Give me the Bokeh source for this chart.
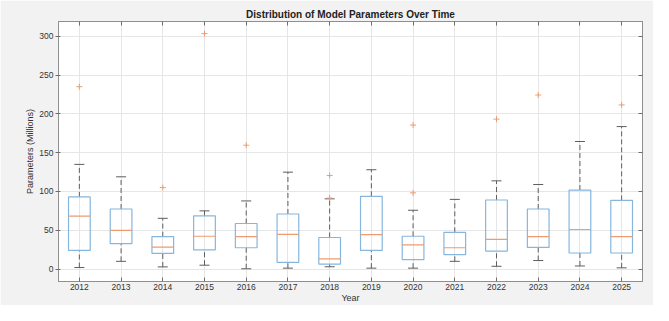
from bokeh.plotting import figure
from bokeh.models import (ColumnDataSource, FactorRange, Range1d, LinearAxis,
                          CategoricalAxis, FixedTicker)
from bokeh.transform import dodge
from bokeh.embed import file_html
from bokeh.resources import INLINE

# ---- data ----
years = ["2012", "2013", "2014", "2015", "2016", "2017", "2018",
         "2019", "2020", "2021", "2022", "2023", "2024", "2025"]
lower_whisker = [2, 10, 2.8, 5, 0.4, 1.2, 3, 1.2, 1.2, 10, 3.6, 11, 4, 1.6]
q1 = [24, 32.7, 20.3, 24.7, 27.5, 8.7, 6.3, 24, 12.3, 18.7, 23.1, 27.9, 20.7, 20.7]
median = [68.2, 49.9, 28.3, 42.3, 41.9, 44.7, 13.2, 44.3, 31.1, 27.5, 38.3, 41.9, 51, 41.9]
q3 = [93, 77.4, 41.9, 68.6, 58.7, 71, 40.7, 93.8, 42.3, 47.4, 89, 77.4, 101.8, 88.6]
upper_whisker = [134.9, 118.9, 65.4, 75, 87.8, 124.9, 90.5, 128, 75.8, 89.8,
                 113.7, 109, 164.4, 183.6]
outlier_years = ["2012", "2014", "2015", "2016", "2018", "2018", "2020",
                 "2020", "2022", "2023", "2025"]
outlier_values = [235, 105, 303.4, 159.6, 120.5, 91.5, 185.6, 98.2, 193.2,
                  224.3, 211.5]
y_ticks = [0, 50, 100, 150, 200, 250, 300]

BLUE = "#86b6de"
ORANGE = "#ec9c70"
WHISK = "#5e5e5e"
FRAME = "#8f8f8f"
FONT = "Liberation Sans"

src = ColumnDataSource(dict(year=years, lo=lower_whisker, q1=q1, med=median,
                            q3=q3, hi=upper_whisker))

p = figure(width=653, height=305, output_backend="svg", toolbar_location=None,
           x_range=FactorRange(factors=years, range_padding=0),
           y_range=Range1d(-16, 319),
           title="Distribution of Model Parameters Over Time",
           min_border_left=58, min_border_right=11, min_border_top=21,
           min_border_bottom=22)

p.background_fill_color = "white"
p.border_fill_color = "#f2f2f2"
p.outline_line_color = FRAME
p.outline_line_width = 1

p.title.text_font = FONT
p.title.text_font_size = "10px"
p.title.text_font_style = "bold"
p.title.text_color = "#222222"
p.title.align = "center"
p.title.standoff = 3

# grids
p.ygrid.ticker = FixedTicker(ticks=y_ticks)
p.ygrid.grid_line_color = "#e6e6e6"
p.xgrid.grid_line_color = "#e6e6e6"

# axes
for ax in (p.xaxis[0], p.yaxis[0]):
    ax.minor_tick_line_color = None
    ax.axis_line_color = FRAME
    ax.major_tick_line_color = "#6e6e6e"
    ax.major_label_text_font = FONT
    ax.major_label_text_font_size = "8.5px"
    ax.major_label_text_color = "#333333"
    ax.axis_label_text_font = FONT
    ax.axis_label_text_font_style = "normal"
    ax.axis_label_text_font_size = "9px"
    ax.axis_label_text_color = "#333333"

p.yaxis[0].major_tick_in = 2
p.yaxis[0].major_tick_out = 3
p.xaxis[0].major_tick_in = 4
p.xaxis[0].major_tick_out = 0
p.yaxis[0].ticker = FixedTicker(ticks=y_ticks)
p.yaxis[0].major_label_standoff = 2
p.yaxis[0].axis_label = "Parameters (Millions)"
p.yaxis[0].axis_label_standoff = 1
p.xaxis[0].major_label_standoff = 2
p.xaxis[0].axis_label = "Year"
p.xaxis[0].axis_label_standoff = 0

right = LinearAxis(ticker=FixedTicker(ticks=y_ticks), major_tick_in=4,
                   major_tick_out=0, minor_tick_line_color=None,
                   major_label_text_font_size="0px",
                   major_label_text_color=None, major_label_standoff=0,
                   axis_line_color=FRAME, major_tick_line_color="#6e6e6e")
p.add_layout(right, "right")
top = CategoricalAxis(major_tick_in=4, major_tick_out=0,
                      major_label_text_font_size="0px",
                      major_label_text_color=None, major_label_standoff=0,
                      axis_line_color=FRAME, major_tick_line_color="#6e6e6e")
p.add_layout(top, "above")

# whiskers (dashed)
p.segment(x0="year", x1="year", y0="q3", y1="hi", source=src,
          line_color=WHISK, line_dash="5 3", line_width=1)
p.segment(x0="year", x1="year", y0="lo", y1="q1", source=src,
          line_color=WHISK, line_dash="5 3", line_width=1)
# caps
p.segment(x0=dodge("year", -0.12, range=p.x_range),
          x1=dodge("year", 0.12, range=p.x_range),
          y0="hi", y1="hi", source=src, line_color=WHISK, line_width=1)
p.segment(x0=dodge("year", -0.12, range=p.x_range),
          x1=dodge("year", 0.12, range=p.x_range),
          y0="lo", y1="lo", source=src, line_color=WHISK, line_width=1)
# boxes
p.vbar(x="year", width=0.52, bottom="q1", top="q3", source=src,
       fill_color=None, line_color=BLUE, line_width=1.2)
# medians
p.segment(x0=dodge("year", -0.26, range=p.x_range),
          x1=dodge("year", 0.26, range=p.x_range),
          y0="med", y1="med", source=src, line_color=ORANGE, line_width=1.2)
# outliers
p.scatter(x=outlier_years, y=outlier_values, marker="cross", size=6,
          line_color=ORANGE, line_width=1)

open("out.html", "w").write(file_html(p, INLINE))
